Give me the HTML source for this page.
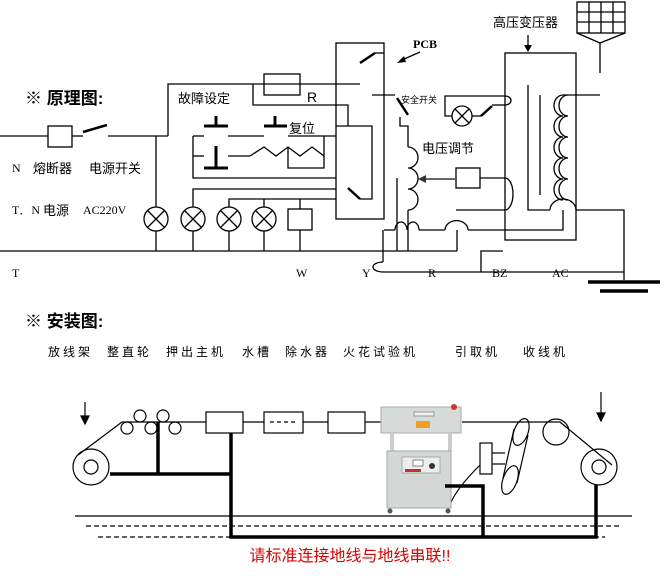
<!DOCTYPE html>
<html><head><meta charset="utf-8"><style>
body{margin:0;background:#fff}
svg{display:block}
text{font-family:"Liberation Sans","Noto Sans CJK SC",sans-serif;fill:#000}
.m text{font-family:"Liberation Serif","Noto Serif CJK SC",serif}
</style></head><body>
<svg width="667" height="579" viewBox="0 0 667 579" xmlns="http://www.w3.org/2000/svg">
<g fill="none" stroke="#000" stroke-width="1.3">
<line x1="0" y1="136" x2="48" y2="136"/><rect x="48" y="126" width="24" height="21"/>
<line x1="72" y1="136" x2="83" y2="136"/>
<line x1="83" y1="132" x2="107" y2="125" stroke-width="2.5"/>
<line x1="108" y1="136" x2="168" y2="136"/>
<polyline points="156,136 156,251"/>
<polyline points="168,136 168,84 336,84"/>
<rect x="264" y="74" width="36" height="21"/>
<polyline points="253,84 253,105 336,105"/>
<line x1="204" y1="126" x2="228" y2="126" stroke-width="3"/><line x1="216" y1="116" x2="216" y2="126" stroke-width="3"/>
<line x1="264" y1="126" x2="287" y2="126" stroke-width="3"/><line x1="275" y1="116" x2="275" y2="126" stroke-width="3"/>
<line x1="193" y1="136" x2="204" y2="136"/><line x1="228" y1="136" x2="264" y2="136"/><line x1="288" y1="136" x2="336" y2="136"/>
<polyline points="193,136 193,178 336,178"/>
<line x1="204" y1="168" x2="228" y2="168" stroke-width="3"/><line x1="216" y1="146" x2="216" y2="168" stroke-width="3"/>
<line x1="193" y1="156" x2="204" y2="156"/><line x1="228" y1="156" x2="250" y2="156"/>
<polyline points="250,156 264,147 276,156 288,147 300,156 312,147 324,156"/>
<polyline points="288,147 288,168 324,168 324,136"/>
<polyline points="193,251 193,189 336,189"/>
<polyline points="229,251 229,199 336,199"/>
<line x1="264" y1="199" x2="264" y2="251"/><line x1="300" y1="199" x2="300" y2="251"/>
<rect x="288" y="209" width="24" height="21" fill="#fff"/>
<g fill="#fff">
<circle cx="156" cy="219" r="12"/><circle cx="193" cy="219" r="12"/><circle cx="229" cy="219" r="12"/><circle cx="264" cy="219" r="12"/>
</g>
<path d="M148 211l16 16M164 211l-16 16M185 211l16 16M201 211l-16 16M221 211l16 16M237 211l-16 16M256 211l16 16M272 211l-16 16"/>
<line x1="0" y1="251" x2="457" y2="251"/>
<rect x="336" y="43" width="48" height="176"/>
<line x1="360" y1="63" x2="375" y2="53" stroke-width="2.5"/><line x1="375" y1="53" x2="384" y2="53"/>
<line x1="336" y1="84" x2="360" y2="84"/>
<polyline points="372,95 395,95"/>
<line x1="397" y1="98" x2="408" y2="115" stroke-width="2.5"/>
<polyline points="336,105 348,105 348,126"/>
<polyline points="336,126 372,126 372,199 360,199"/>
<line x1="348" y1="188" x2="360" y2="199" stroke-width="2.5"/>
<polyline points="400,117 400,126 408,126 408,147"/>
<path d="M408 147a10 10.5 0 0 1 0 21a10 10.5 0 0 1 0 21a10 10.5 0 0 1 0 21"/>
<line x1="408" y1="210" x2="408" y2="251"/>
<line x1="397" y1="178" x2="397" y2="251"/>
<line x1="455" y1="179" x2="424" y2="179" stroke="#666" stroke-width="2"/>
<polygon points="418,179 426,175 426,183" fill="#333" stroke="none"/>
<rect x="456" y="168" width="24" height="20"/>
<line x1="480" y1="178" x2="505" y2="178"/>
<path d="M505 178a8 16 0 0 1 0 32"/>
<line x1="456" y1="210" x2="505" y2="210"/>
<line x1="384" y1="230" x2="395" y2="230"/>
<path d="M395 230a6 8 0 0 1 12 0a6 8 0 0 1 12 0"/>
<line x1="419" y1="230" x2="445" y2="230"/>
<path d="M445 230a11 9 0 0 1 23 0"/>
<polyline points="468,230 563,230 563,210"/>
<line x1="457" y1="230" x2="457" y2="251"/>
<polyline points="383,230 383,262"/>
<path d="M383 262a10 5 0 0 0 0 10"/>
<line x1="383" y1="272" x2="624" y2="272"/>
<polyline points="481,272 481,251 503,251"/>
<rect x="505" y="53" width="71" height="187"/>
<line x1="528" y1="35" x2="528" y2="46"/>
<polygon points="524,45 532,45 528,52" fill="#000" stroke="none"/>
<polyline points="528,85 528,210 550,210"/>
<line x1="540" y1="95" x2="540" y2="195"/>
<path d="M563 95a9 10.5 0 0 0 0 21a9 10.5 0 0 0 0 21a9 10.5 0 0 0 0 21a9 10.5 0 0 0 0 21a9 10.5 0 0 0 0 21"/>
<path d="M568 95a9 10.5 0 0 0 0 21a9 10.5 0 0 0 0 21a9 10.5 0 0 0 0 21a9 10.5 0 0 0 0 21a9 10.5 0 0 0 0 21"/>
<line x1="563" y1="95" x2="600" y2="95"/>
<path d="M550 210a13 11 0 0 1 26 0"/>
<polyline points="576,210 624,210 624,280"/>
<line x1="588" y1="282" x2="660" y2="282" stroke-width="3.5"/>
<line x1="600" y1="291" x2="648" y2="291" stroke-width="3.5"/>
<polyline points="505,96 445,96 445,116 452,116"/>
<circle cx="462" cy="116" r="10"/><path d="M455 109l14 14M469 109l-14 14"/>
<line x1="472" y1="116" x2="481" y2="116"/>
<line x1="481" y1="116" x2="492" y2="106" stroke-width="2.5"/>
<line x1="492" y1="105" x2="505" y2="105"/>
<path d="M505 96a6 4.5 0 0 1 0 9"/>
<rect x="577" y="2" width="48" height="31"/>
<path d="M589 2v31M601 2v31M613 2v31M577 12h48M577 22h48"/>
<polyline points="577,33 600,43 625,33"/>
<line x1="600" y1="43" x2="600" y2="73"/>
<line x1="420" y1="52" x2="402" y2="60"/>
<polygon points="397,63 404,56 406,62" fill="#000" stroke="none"/>
</g>
<g class="m" font-size="12">
<text x="12" y="172">N</text><text x="12" y="214">T．N</text><text x="83" y="214">AC220V</text>
<text x="12" y="277">T</text><text x="296" y="277">W</text><text x="362" y="277">Y</text>
<text x="428" y="277">R</text><text x="492" y="277">BZ</text><text x="552" y="277">AC</text>
<text x="413" y="48" font-weight="bold" font-size="12">PCB</text>
</g>
<g font-size="13">
<text x="25" y="104" font-size="17" font-weight="bold">※ 原理图:</text>
<text x="33" y="173">熔断器</text><text x="89" y="173">电源开关</text>
<text x="43" y="215">电源</text>
<text x="178" y="103">故障设定</text>
<text x="307" y="102" font-size="14">R</text>
<text x="289" y="133">复位</text>
<text x="401" y="103" font-size="9">安全开关</text>
<text x="422" y="153">电压调节</text>
<text x="493" y="27">高压变压器</text>
</g>
<text x="25" y="327" font-size="17" font-weight="bold">※ 安装图:</text>
<g font-size="12" letter-spacing="3">
<text x="48" y="356">放线架</text><text x="107" y="356">整直轮</text><text x="166" y="356">押出主机</text>
<text x="242" y="356">水槽</text><text x="285" y="356">除水器</text><text x="343" y="356">火花试验机</text>
<text x="455" y="356">引取机</text><text x="523" y="356">收线机</text>
</g>
<g fill="none" stroke="#000" stroke-width="1.2">
<line x1="85" y1="402" x2="85" y2="418"/><polygon points="81,416 89,416 85,424" fill="#000"/>
<line x1="601" y1="392" x2="601" y2="414"/><polygon points="597,413 605,413 601,421" fill="#000"/>
<circle cx="91" cy="467" r="18"/><circle cx="91" cy="467" r="7"/>
<circle cx="599" cy="467" r="18"/><circle cx="599" cy="467" r="7"/>
<line x1="78" y1="455" x2="122" y2="422"/>
<line x1="122" y1="422" x2="384" y2="422"/>
<polyline points="462,422 560,422 612,465"/>
<circle cx="140" cy="416" r="6"/><circle cx="163" cy="416" r="6"/>
<circle cx="127" cy="428" r="6"/><circle cx="151" cy="428" r="6"/><circle cx="175" cy="428" r="6"/>
<rect x="206" y="412" width="37" height="21" fill="#fff"/>
<rect x="264" y="412" width="39" height="21" fill="#fff"/><line x1="270" y1="422" x2="297" y2="422" stroke-dasharray="4 3"/>
<rect x="328" y="412" width="37" height="21" fill="#fff"/>
<circle cx="556" cy="432" r="13"/>
<rect x="480" y="443" width="12" height="31"/>
<line x1="492" y1="453" x2="505" y2="453"/><line x1="492" y1="464" x2="505" y2="464"/>
<ellipse cx="521" cy="432" rx="7" ry="14" transform="rotate(20 521 432)"/>
<ellipse cx="510" cy="480" rx="7" ry="15" transform="rotate(20 510 480)"/>
<line x1="514" y1="429" x2="503" y2="478"/><line x1="528" y1="435" x2="517" y2="483"/>
<path d="M480 465q-25 25 -30 40"/>
<line x1="75" y1="516" x2="632" y2="516"/>
<line x1="86" y1="526" x2="621" y2="526" stroke-dasharray="5 3"/>
<line x1="98" y1="537" x2="605" y2="537" stroke-dasharray="5 3"/>
</g>
<g>
<rect x="381" y="407" width="80" height="26" fill="#d6dad8" stroke="#aaa"/>
<rect x="414" y="412" width="20" height="4" fill="#eee" stroke="#999"/>
<rect x="416" y="421" width="14" height="7" fill="#f0a020"/>
<circle cx="454" cy="407" r="3" fill="#c33"/>
<rect x="390" y="433" width="4" height="18" fill="#ccc"/><rect x="448" y="433" width="4" height="18" fill="#ccc"/>
<rect x="387" y="451" width="64" height="57" fill="#d3d7d6" stroke="#aaa"/>
<rect x="402" y="457" width="38" height="16" fill="#eceeed" stroke="#aaa"/>
<rect x="413" y="460" width="10" height="6" fill="#fff" stroke="#555" stroke-width="0.7"/>
<circle cx="432" cy="466" r="3" fill="#333"/>
<rect x="405" y="469" width="16" height="3" fill="#b33"/>
<circle cx="390" cy="511" r="2.5" fill="#555"/><circle cx="448" cy="511" r="2.5" fill="#555"/>
</g>
<g fill="none" stroke="#000" stroke-width="3.5">
<polyline points="158,422 158,474"/>
<polyline points="110,474 231,474"/>
<polyline points="231,433 231,537 596,537 596,485"/>
<polyline points="445,486 483,486 483,537"/>
</g>
<text x="350" y="561" font-size="16" style="fill:#d00" text-anchor="middle">请标准连接地线与地线串联!!</text>
</svg>
</body></html>
